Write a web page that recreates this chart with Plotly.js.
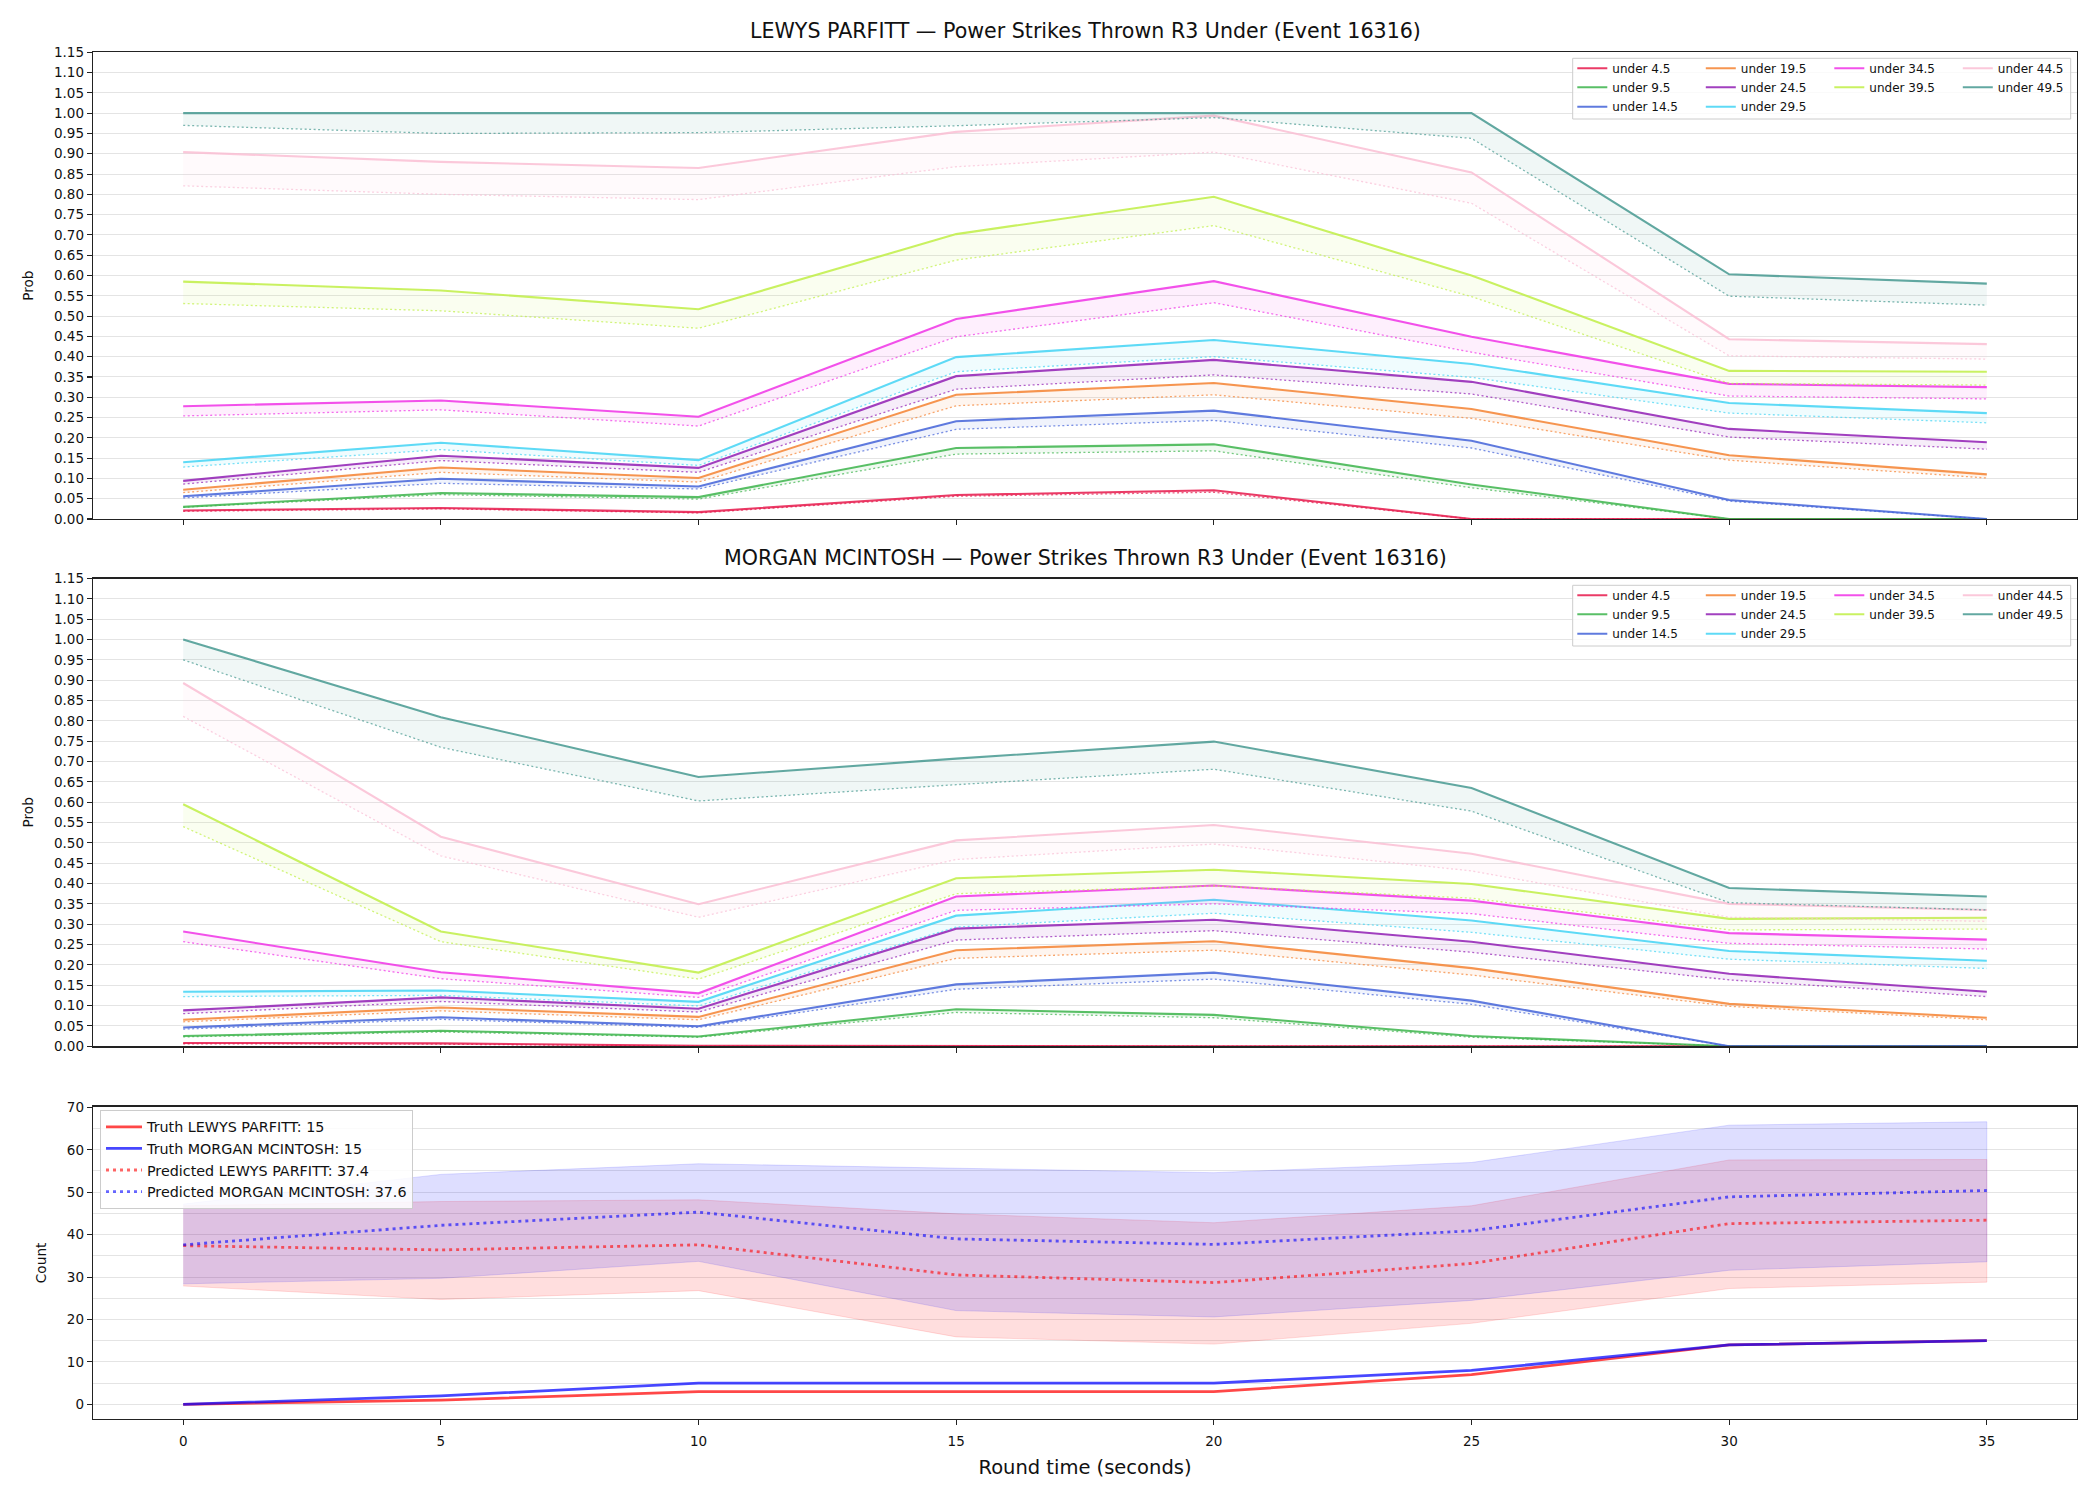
<!DOCTYPE html>
<html>
<head>
<meta charset="utf-8">
<script src="https://cdn.plot.ly/plotly-3.0.1.min.js"></script>
<style>
  html, body { margin: 0; padding: 0; background: #ffffff; }
  #chart { width: 2100px; height: 1500px; }
</style>
</head>
<body>
<div id="chart"></div>
<script>
// Round time in seconds (shared x values)
const roundTimes = [0, 5, 10, 15, 20, 25, 30, 35];

// Over/under lines
const lineLabels = ['under 4.5', 'under 9.5', 'under 14.5', 'under 19.5', 'under 24.5',
                    'under 29.5', 'under 34.5', 'under 39.5', 'under 44.5', 'under 49.5'];

// LEWYS PARFITT: probability per line (solid) and lower bound (dotted)
const parfittProb = [
  [0.021, 0.027, 0.017, 0.059, 0.071, 0.000, 0.000, 0.000],
  [0.030, 0.064, 0.054, 0.175, 0.184, 0.085, 0.000, 0.000],
  [0.056, 0.099, 0.080, 0.241, 0.267, 0.193, 0.047, 0.000],
  [0.072, 0.127, 0.101, 0.306, 0.335, 0.271, 0.157, 0.110],
  [0.094, 0.156, 0.126, 0.352, 0.392, 0.338, 0.222, 0.189],
  [0.140, 0.188, 0.145, 0.399, 0.441, 0.382, 0.286, 0.261],
  [0.278, 0.292, 0.252, 0.493, 0.586, 0.449, 0.333, 0.325],
  [0.585, 0.563, 0.517, 0.702, 0.794, 0.600, 0.365, 0.363],
  [0.904, 0.880, 0.865, 0.954, 0.994, 0.854, 0.443, 0.431],
  [1.000, 1.000, 1.000, 1.000, 1.000, 1.000, 0.603, 0.580]
];
const parfittLower = [
  [0.019, 0.025, 0.015, 0.056, 0.066, 0.000, 0.000, 0.000],
  [0.029, 0.060, 0.049, 0.160, 0.168, 0.077, 0.000, 0.000],
  [0.052, 0.088, 0.074, 0.221, 0.243, 0.175, 0.044, 0.000],
  [0.065, 0.115, 0.091, 0.279, 0.306, 0.248, 0.145, 0.101],
  [0.086, 0.144, 0.115, 0.320, 0.355, 0.308, 0.202, 0.172],
  [0.128, 0.171, 0.132, 0.363, 0.400, 0.349, 0.261, 0.237],
  [0.254, 0.269, 0.229, 0.449, 0.533, 0.411, 0.303, 0.296],
  [0.531, 0.513, 0.470, 0.638, 0.723, 0.548, 0.334, 0.330],
  [0.821, 0.800, 0.787, 0.868, 0.904, 0.778, 0.402, 0.394],
  [0.970, 0.950, 0.952, 0.969, 0.989, 0.938, 0.549, 0.527]
];

// MORGAN MCINTOSH: probability per line (solid) and lower bound (dotted)
const mcintoshProb = [
  [0.008, 0.007, 0.001, 0.000, 0.000, 0.000, 0.000, 0.000],
  [0.025, 0.038, 0.024, 0.091, 0.077, 0.025, 0.000, 0.000],
  [0.046, 0.071, 0.049, 0.152, 0.181, 0.112, 0.000, 0.000],
  [0.065, 0.095, 0.072, 0.236, 0.258, 0.192, 0.104, 0.070],
  [0.088, 0.120, 0.092, 0.289, 0.311, 0.257, 0.178, 0.134],
  [0.134, 0.137, 0.109, 0.321, 0.360, 0.309, 0.234, 0.210],
  [0.282, 0.182, 0.130, 0.368, 0.395, 0.358, 0.278, 0.262],
  [0.595, 0.282, 0.181, 0.413, 0.434, 0.399, 0.313, 0.316],
  [0.893, 0.515, 0.349, 0.506, 0.544, 0.473, 0.350, 0.335],
  [1.000, 0.809, 0.662, 0.707, 0.749, 0.635, 0.389, 0.368]
];
const mcintoshLower = [
  [0.006, 0.005, 0.000, 0.000, 0.000, 0.000, 0.000, 0.000],
  [0.023, 0.035, 0.022, 0.083, 0.070, 0.022, 0.000, 0.000],
  [0.042, 0.066, 0.046, 0.140, 0.165, 0.103, 0.000, 0.000],
  [0.060, 0.087, 0.065, 0.216, 0.236, 0.175, 0.098, 0.065],
  [0.080, 0.110, 0.084, 0.261, 0.284, 0.231, 0.163, 0.122],
  [0.122, 0.125, 0.099, 0.293, 0.327, 0.280, 0.214, 0.191],
  [0.257, 0.166, 0.120, 0.334, 0.350, 0.326, 0.253, 0.239],
  [0.540, 0.257, 0.165, 0.375, 0.394, 0.364, 0.286, 0.288],
  [0.811, 0.468, 0.317, 0.459, 0.497, 0.431, 0.317, 0.307],
  [0.950, 0.735, 0.603, 0.643, 0.681, 0.578, 0.353, 0.335]
];

// Count panel: truth so far, predicted total and its band
const truthParfitt   = [0, 1, 3, 3, 3, 7, 14, 15];
const truthMcintosh  = [0, 2, 5, 5, 5, 8, 14, 15];
const predParfitt    = [37.4, 36.4, 37.6, 30.5, 28.7, 33.2, 42.6, 43.4];
const predMcintosh   = [37.6, 42.2, 45.3, 39.0, 37.7, 40.9, 48.9, 50.4];
const upperParfitt   = [46.8, 47.8, 48.2, 44.9, 42.8, 46.8, 57.6, 57.7];
const lowerParfitt   = [27.9, 24.7, 26.8, 15.9, 14.2, 19.1, 27.3, 28.8];
const upperMcintosh  = [47.2, 54.2, 56.7, 55.6, 54.6, 57.0, 65.8, 66.6];
const lowerMcintosh  = [28.4, 29.7, 33.7, 22.1, 20.6, 24.5, 31.6, 33.6];

const probTicks = [0, 0.05, 0.10, 0.15, 0.20, 0.25, 0.30, 0.35, 0.40, 0.45, 0.50, 0.55,
                   0.60, 0.65, 0.70, 0.75, 0.80, 0.85, 0.90, 0.95, 1.00, 1.05, 1.10, 1.15];
const countTicks = [0, 10, 20, 30, 40, 50, 60, 70];

const palette = ['#e6194B', '#3cb44b', '#4363d8', '#f58231', '#911eb4',
                 '#42d4f4', '#f032e6', '#bfef45', '#fabed4', '#469990'];

function rgba(hex, a) {
  const n = parseInt(hex.slice(1), 16);
  return 'rgba(' + ((n >> 16) & 255) + ',' + ((n >> 8) & 255) + ',' + (n & 255) + ',' + a + ')';
}

const FONT = 'DejaVu Sans, Liberation Sans, sans-serif';
const W = 2100, H = 1500;
const px2x = v => v / W;
const px2y = v => 1 - v / H;

// legend row for each line: column-major fill of a 4-column legend
const legendRow = [0, 1, 2, 0, 1, 2, 0, 1, 0, 1];

const traces = [];

function addProbPanel(prob, lower, xa, ya, legendIds) {
  for (let i = 0; i < lineLabels.length; i++) {
    const c = palette[i];
    // shaded band between the line and its lower bound
    traces.push({
      x: roundTimes.concat(roundTimes.slice().reverse()),
      y: prob[i].concat(lower[i].slice().reverse()),
      xaxis: xa, yaxis: ya,
      mode: 'lines', fill: 'toself', fillcolor: rgba(c, 0.08),
      line: { width: 0, color: rgba(c, 0) },
      showlegend: false, hoverinfo: 'skip'
    });
    traces.push({
      x: roundTimes, y: lower[i], xaxis: xa, yaxis: ya,
      mode: 'lines',
      line: { color: rgba(c, 0.7), width: 1.3, dash: '2px,2.5px' },
      showlegend: false, hoverinfo: 'skip'
    });
    traces.push({
      x: roundTimes, y: prob[i], xaxis: xa, yaxis: ya,
      mode: 'lines', name: lineLabels[i],
      line: { color: rgba(c, 0.85), width: 2.1 },
      legend: legendIds[legendRow[i]]
    });
  }
}

addProbPanel(parfittProb, parfittLower, 'x', 'y', ['legend2', 'legend3', 'legend4']);
addProbPanel(mcintoshProb, mcintoshLower, 'x2', 'y2', ['legend5', 'legend6', 'legend7']);

function band(upper, lower, c) {
  return {
    x: roundTimes.concat(roundTimes.slice().reverse()),
    y: upper.concat(lower.slice().reverse()),
    xaxis: 'x3', yaxis: 'y3',
    mode: 'lines', fill: 'toself', fillcolor: rgba(c, 0.13),
    line: { width: 1, color: rgba(c, 0.13) },
    showlegend: false, hoverinfo: 'skip'
  };
}
traces.push(band(upperParfitt, lowerParfitt, '#ff0000'));
traces.push(band(upperMcintosh, lowerMcintosh, '#0000ff'));
traces.push({
  x: roundTimes, y: truthParfitt, xaxis: 'x3', yaxis: 'y3', mode: 'lines',
  name: 'Truth LEWYS PARFITT: 15', line: { color: 'rgba(255,0,0,0.72)', width: 2.8 }, legend: 'legend'
});
traces.push({
  x: roundTimes, y: truthMcintosh, xaxis: 'x3', yaxis: 'y3', mode: 'lines',
  name: 'Truth MORGAN MCINTOSH: 15', line: { color: 'rgba(0,0,255,0.72)', width: 2.8 }, legend: 'legend'
});
traces.push({
  x: roundTimes, y: predParfitt, xaxis: 'x3', yaxis: 'y3', mode: 'lines',
  name: 'Predicted LEWYS PARFITT: 37.4', line: { color: 'rgba(255,0,0,0.6)', width: 2.8, dash: '3px,4px' }, legend: 'legend'
});
traces.push({
  x: roundTimes, y: predMcintosh, xaxis: 'x3', yaxis: 'y3', mode: 'lines',
  name: 'Predicted MORGAN MCINTOSH: 37.6', line: { color: 'rgba(0,0,255,0.6)', width: 2.8, dash: '3px,4px' }, legend: 'legend'
});

const AX = '#222222';
const GRID = '#e4e4e4';
const xDomain = [px2x(93), px2x(2077)];

function xAxis(anchor, showLabels) {
  return {
    domain: xDomain, anchor: anchor, range: [-1.75, 36.75],
    tickvals: roundTimes, ticktext: roundTimes.map(String),
    showticklabels: showLabels, ticks: 'outside', ticklen: 5, tickwidth: 1.1, tickcolor: AX,
    ticklabelstandoff: 4,
    showline: true, linecolor: AX, linewidth: 1.3, mirror: true,
    showgrid: false, zeroline: false,
    tickfont: { family: FONT, size: 13.5, color: '#111' }
  };
}
function probAxis(anchor, top, bottom) {
  return {
    domain: [px2y(bottom), px2y(top)], anchor: anchor, range: [0, 1.15],
    tickvals: probTicks, ticktext: probTicks.map(v => v.toFixed(2)),
    ticks: 'outside', ticklen: 5, tickwidth: 1.1, tickcolor: AX,
    showline: true, linecolor: AX, linewidth: 1.3, mirror: true,
    showgrid: true, gridcolor: GRID, gridwidth: 1, zeroline: false,
    tickfont: { family: FONT, size: 13.5, color: '#111' },
    title: { text: 'Prob', font: { family: FONT, size: 13.7, color: '#111' }, standoff: 17 }
  };
}

function rowLegend(xpx, ypx) {
  return {
    orientation: 'h', x: px2x(xpx), y: px2y(ypx), xanchor: 'left', yanchor: 'middle',
    xref: 'paper', yref: 'paper',
    entrywidth: 83.5, entrywidthmode: 'pixels',
    bgcolor: 'rgba(0,0,0,0)', borderwidth: 0,
    font: { family: FONT, size: 12, color: '#111' }
  };
}

const legendBoxTop = [58.3, 585.3];
const legendRows = [10, 29, 48.4];

const layout = {
  width: W, height: H,
  margin: { l: 0, r: 0, t: 0, b: 0, pad: 0 },
  paper_bgcolor: '#ffffff', plot_bgcolor: '#ffffff',
  hovermode: false,
  font: { family: FONT, color: '#111' },
  xaxis: xAxis('y', false),
  yaxis: probAxis('x', 52.3, 519),
  xaxis2: xAxis('y2', false),
  yaxis2: probAxis('x2', 578.5, 1046.2),
  xaxis3: Object.assign(xAxis('y3', true), {
    title: { text: 'Round time (seconds)', font: { family: FONT, size: 19.5, color: '#111' }, standoff: 12 }
  }),
  yaxis3: {
    domain: [px2y(1419), px2y(1106.7)], anchor: 'x3', range: [-3.45, 70.15],
    tickvals: countTicks, ticktext: countTicks.map(String),
    ticks: 'outside', ticklen: 5, tickwidth: 1.1, tickcolor: AX,
    showline: true, linecolor: AX, linewidth: 1.3, mirror: true,
    showgrid: true, gridcolor: GRID, gridwidth: 1, zeroline: false,
    minor: { dtick: 5, tick0: 0, showgrid: true, gridcolor: GRID, gridwidth: 1, ticks: '' },
    tickfont: { family: FONT, size: 13.5, color: '#111' },
    title: { text: 'Count', font: { family: FONT, size: 13.7, color: '#111' }, standoff: 17 }
  },
  legend: {
    orientation: 'v', x: px2x(100), y: px2y(1110), xanchor: 'left', yanchor: 'top',
    bgcolor: 'rgba(255,255,255,0.85)', bordercolor: '#cccccc', borderwidth: 1,
    itemwidth: 36,
    font: { family: FONT, size: 14.3, color: '#111' }
  },
  legend2: rowLegend(1572.3, legendBoxTop[0] + legendRows[0]),
  legend3: rowLegend(1572.3, legendBoxTop[0] + legendRows[1]),
  legend4: rowLegend(1572.3, legendBoxTop[0] + legendRows[2]),
  legend5: rowLegend(1572.3, legendBoxTop[1] + legendRows[0]),
  legend6: rowLegend(1572.3, legendBoxTop[1] + legendRows[1]),
  legend7: rowLegend(1572.3, legendBoxTop[1] + legendRows[2]),
  shapes: legendBoxTop.map(t => ({
    type: 'rect', xref: 'paper', yref: 'paper', layer: 'above',
    x0: px2x(1572.7), x1: px2x(2070.7), y0: px2y(t + 60.7), y1: px2y(t),
    line: { color: '#cccccc', width: 1 }, fillcolor: 'rgba(255,255,255,0.8)'
  })),
  annotations: [
    {
      text: 'LEWYS PARFITT — Power Strikes Thrown R3 Under (Event 16316)',
      xref: 'paper', yref: 'paper', x: px2x(1085), y: px2y(31), xanchor: 'center', yanchor: 'middle',
      showarrow: false, font: { family: FONT, size: 20.6, color: '#111' }
    },
    {
      text: 'MORGAN MCINTOSH — Power Strikes Thrown R3 Under (Event 16316)',
      xref: 'paper', yref: 'paper', x: px2x(1085), y: px2y(558), xanchor: 'center', yanchor: 'middle',
      showarrow: false, font: { family: FONT, size: 20.6, color: '#111' }
    }
  ]
};

Plotly.newPlot('chart', traces, layout, { displayModeBar: false, staticPlot: true });
</script>
</body>
</html>
